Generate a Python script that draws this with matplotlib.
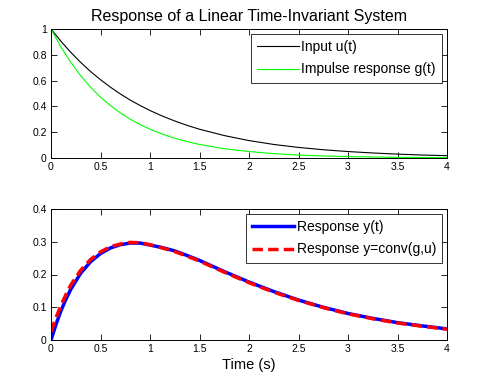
import matplotlib
matplotlib.use("Agg")
import matplotlib.pyplot as plt

plt.rcParams['font.family'] = ['Liberation Sans', 'DejaVu Sans']

# Top panel data
t_top = [0, 0.1, 0.2, 0.3, 0.4, 0.5, 0.6, 0.7, 0.8, 0.9, 1.0, 1.125, 1.25, 1.375, 1.5, 1.75,
         2.0, 2.25, 2.5, 2.75, 3.0, 3.25, 3.5, 3.75, 4.0]
u_vals = [1.0, 0.905, 0.819, 0.741, 0.670, 0.607, 0.549, 0.497, 0.449, 0.407, 0.368, 0.325, 0.287,
          0.253, 0.223, 0.174, 0.135, 0.105, 0.082, 0.064, 0.05, 0.039, 0.03, 0.023, 0.018]
g_vals = [1.0, 0.861, 0.741, 0.638, 0.549, 0.472, 0.407, 0.350, 0.301, 0.259, 0.223, 0.185, 0.153,
          0.127, 0.105, 0.072, 0.05, 0.034, 0.023, 0.016, 0.011, 0.008, 0.005, 0.004, 0.0025]

# Bottom panel data
t_bot = [0, 0.05, 0.1, 0.15, 0.2, 0.3, 0.4, 0.5, 0.6, 0.7, 0.8, 0.9, 1.0, 1.125, 1.25, 1.375, 1.5, 1.75,
         2.0, 2.25, 2.5, 2.75, 3.0, 3.25, 3.5, 3.75, 4.0]
y_vals = [0.0, 0.047, 0.089, 0.124, 0.155, 0.204, 0.239, 0.264, 0.281, 0.291, 0.296, 0.296, 0.29,
          0.282, 0.272, 0.258, 0.243, 0.209, 0.177, 0.148, 0.122, 0.1, 0.081, 0.066, 0.053, 0.043, 0.034]
yc_vals = [0.025, 0.068, 0.105, 0.138, 0.168, 0.213, 0.246, 0.269, 0.285, 0.293, 0.298, 0.297, 0.291,
           0.281, 0.270, 0.256, 0.241, 0.207, 0.175, 0.146, 0.121, 0.099, 0.080, 0.065, 0.052, 0.042, 0.033]

fig = plt.figure(figsize=(4.79, 3.8), dpi=100)
ax1 = fig.add_axes([51/479, 1-158/380, 396/479, 129/380])
ax2 = fig.add_axes([51/479, 1-340/380, 396/479, 131/380])

ax1.plot(t_top, u_vals, color='black', lw=0.8, label='Input u(t)')
ax1.plot(t_top, g_vals, color='#00ff00', lw=0.8, label='Impulse response g(t)')
ax1.set_xlim(0, 4)
ax1.set_ylim(0, 1)
ax1.set_yticks([0, 0.2, 0.4, 0.6, 0.8, 1])
ax1.set_yticklabels(['0', '0.2', '0.4', '0.6', '0.8', '1'])
ax1.set_title('Response of a Linear Time-Invariant System', fontsize=11.5, pad=6)

ax2.plot(t_bot, y_vals, color='#0000ff', lw=2.5, label='Response y(t)')
ax2.plot(t_bot, yc_vals, color='#ff0000', lw=2.5, ls=(0, (3, 1.5)), label='Response y=conv(g,u)')
ax2.set_xlim(0, 4)
ax2.set_ylim(0, 0.4)
ax2.set_yticks([0, 0.1, 0.2, 0.3, 0.4])
ax2.set_yticklabels(['0', '0.1', '0.2', '0.3', '0.4'])
ax2.set_xlabel('Time (s)', fontsize=10.5, labelpad=3)

for ax in (ax1, ax2):
    ax.set_xticks([0, 0.5, 1, 1.5, 2, 2.5, 3, 3.5, 4])
    ax.set_xticklabels(['0', '0.5', '1', '1.5', '2', '2.5', '3', '3.5', '4'])
    ax.tick_params(direction='in', top=True, right=True, labelsize=7.5, length=4, width=0.6, pad=3)
    for s in ax.spines.values():
        s.set_linewidth(0.7)
    leg = ax.legend(loc='upper right', fontsize=10, frameon=True, fancybox=False,
                    edgecolor='black', borderpad=0.45, handlelength=3.0, handletextpad=0.2,
                    labelspacing=0.6, borderaxespad=0.35)
    leg.get_frame().set_linewidth(0.7)

fig.savefig('out.png', dpi=100, facecolor='white')
